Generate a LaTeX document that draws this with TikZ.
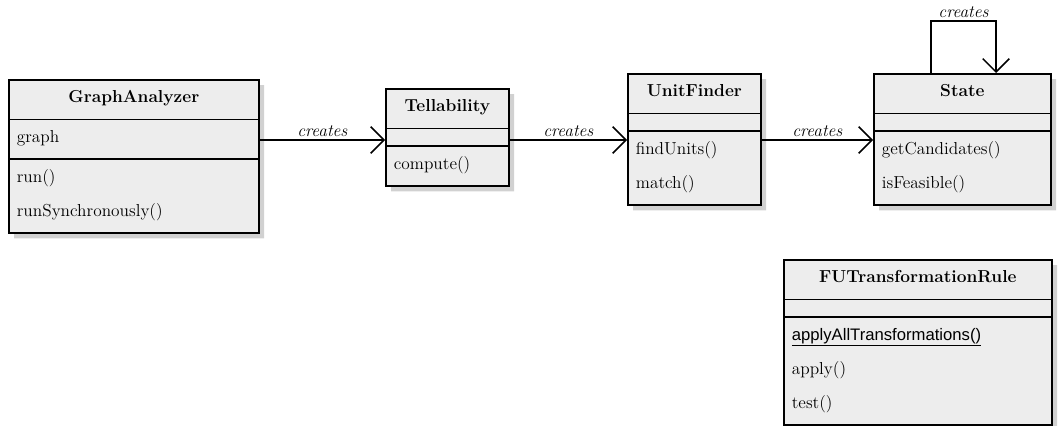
\documentclass[tikz,border=0pt]{standalone}
\usepackage{fontspec}
\newfontfamily\uisans{Liberation Sans}
\usetikzlibrary{arrows.meta,shapes.multipart,shadows}

% one compartment line: fixed height 15pt, depth 10.5pt
\newcommand\ustrut{\rule[-10.5pt]{0pt}{25.5pt}}
% class name, centred across the full compartment width
\newcommand\classname[1]{\hbox to \hsize{\hfil\textbf{#1}\ustrut\hfil}}

\begin{document}
\begin{tikzpicture}[
    x=0.75pt, y=-0.75pt,
    font=\fontsize{13}{25.5}\selectfont,
    umlclass/.style={rectangle split, rectangle split parts=3, draw=black,
                     line width=1.3pt, fill=black!7, anchor=north west,
                     inner xsep=6pt, inner ysep=1.5pt, align=left,
                     drop shadow={shadow xshift=4pt, shadow yshift=-4pt,
                                  fill=black!18, opacity=1}},
    creates/.style={-{Straight Barb[length=10pt, width=20pt]}, line width=1.1pt},
    verb/.style={above, inner sep=2pt, font=\fontsize{13}{14}\selectfont\itshape}
]
    \useasboundingbox (0,0) rectangle (1059,425);

    \node[umlclass, text width=175.5pt] (analyzer) at (8,79)
        {\classname{GraphAnalyzer}
         \nodepart{two}graph\ustrut
         \nodepart{three}run()\ustrut\\runSynchronously()\ustrut};
    \node[umlclass, text width=80.25pt] (tellability) at (385,88)
        {\classname{Tellability}
         \nodepart{two}\rule{0pt}{9pt}
         \nodepart{three}compute()\ustrut};
    \node[umlclass, text width=87.75pt] (finder) at (627,73)
        {\classname{UnitFinder}
         \nodepart{two}\rule{0pt}{9pt}
         \nodepart{three}findUnits()\ustrut\\match()\ustrut};
    \node[umlclass, text width=120.75pt] (state) at (873,73)
        {\classname{State}
         \nodepart{two}\rule{0pt}{9pt}
         \nodepart{three}getCandidates()\ustrut\\isFeasible()\ustrut};
    \node[umlclass, text width=189pt] (rule) at (783,259)
        {\classname{FUTransformationRule}
         \nodepart{two}\rule{0pt}{9pt}
         \nodepart{three}{\uisans\fontsize{12.5}{25.5}\selectfont\underline{applyAllTransformations()}}\ustrut\\
         apply()\ustrut\\test()\ustrut};

    % creation chain along one horizontal line
    \coordinate (lane) at (0,140);
    \draw[creates] (analyzer.east |- lane) -- node[verb]{creates} (tellability.west |- lane);
    \draw[creates] (tellability.east |- lane) -- node[verb]{creates} (finder.west |- lane);
    \draw[creates] (finder.east |- lane) -- node[verb]{creates} (state.west |- lane);

    % State creates further states
    \draw[creates] (state.north west) ++(58,0) -- ++(0,-52)
        -- ++(65,0) node[midway, verb]{creates} -- ++(0,52);
\end{tikzpicture}
\end{document}
